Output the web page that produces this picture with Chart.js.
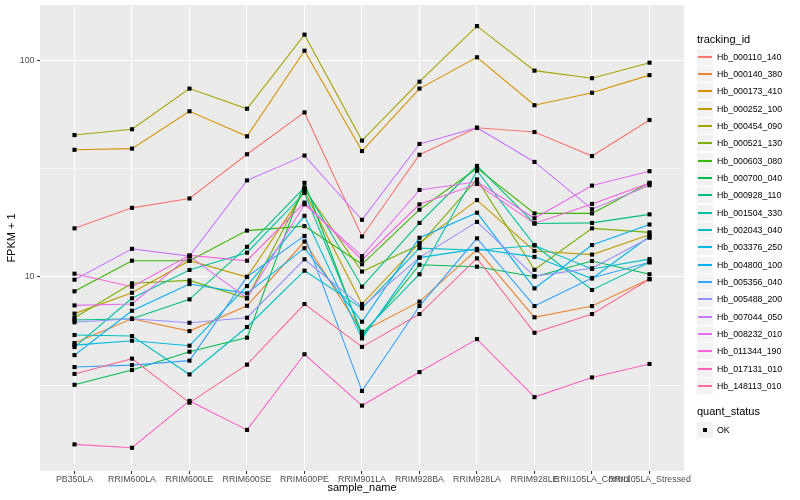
<!DOCTYPE html>
<html><head><meta charset="utf-8">
<script src="https://cdn.jsdelivr.net/npm/chart.js@4"></script>
<style>
body{margin:0;background:#fff;}
#wrap{position:relative;width:800px;height:500px;background:#fff;font-family:"Liberation Sans",Arial,Helvetica,sans-serif;overflow:hidden;}
#c{position:absolute;left:0;top:0;}
.lg-title{position:absolute;left:697px;font-size:11px;color:#000;line-height:13px;white-space:nowrap;}
.lg-key{position:absolute;left:697px;width:16px;height:16px;background:#F2F2F2;}
.lg-line{position:absolute;left:1px;width:14px;top:7px;height:2px;}
.lg-pt{position:absolute;left:6px;top:6px;width:4px;height:4px;background:#000;}
.lg-text{position:absolute;left:717px;font-size:8.8px;line-height:17px;height:17px;color:#000;white-space:nowrap;}
</style></head>
<body><div id="wrap"><canvas id="c" width="800" height="500"></canvas></div>
<script>
const categories = ['PB350LA','RRIM600LA','RRIM600LE','RRIM600SE','RRIM600PE','RRIM901LA','RRIM928BA','RRIM928LA','RRIM928LE','RRII105LA_Control','RRII105LA_Stressed'];
const seriesNames = ['Hb_000110_140','Hb_000140_380','Hb_000173_410','Hb_000252_100','Hb_000454_090','Hb_000521_130','Hb_000603_080','Hb_000700_040','Hb_000928_110','Hb_001504_330','Hb_002043_040','Hb_003376_250','Hb_004800_100','Hb_005356_040','Hb_005488_200','Hb_007044_050','Hb_008232_010','Hb_011344_190','Hb_017131_010','Hb_148113_010'];
const palette = ['#F8766D','#EA8331','#D89000','#C09B00','#A3A500','#7CAE00','#39B600','#00BB4E','#00BF7D','#00C1A3','#00BFC4','#00BAE0','#00B0F6','#35A2FF','#9590FF','#C77CFF','#E76BF3','#FA62DB','#FF62BC','#FF6C91'];

// FPKM + 1 values, one array per tracking_id, in category order
const hb_000110_140 = [16.8, 20.9, 23.1, 37.0, 57.8, 15.4, 36.8, 49.1, 46.9, 36.3, 53.3];
const hb_000140_380 = [4.95, 6.41, 5.62, 7.36, 14.6, 5.58, 7.69, 13.4, 6.51, 7.34, 9.79];
const hb_000173_410 = [38.8, 39.3, 58.5, 44.8, 111.6, 38.3, 74.5, 104, 62.4, 71.3, 86.0];
const hb_000252_100 = [6.77, 8.46, 11.9, 10.0, 24.9, 7.5, 14.4, 22.7, 13.2, 12.7, 15.7];
const hb_000454_090 = [45.4, 48.3, 74.5, 60.1, 132.4, 42.8, 80.2, 145, 90.2, 83.2, 98.2];
const hb_000521_130 = [6.48, 9.35, 9.65, 7.97, 25.5, 10.6, 14.1, 28.3, 10.8, 16.8, 16.1];
const hb_000603_080 = [8.59, 11.9, 11.9, 16.4, 17.2, 11.45, 20.5, 31.9, 19.7, 19.7, 27.3];
const hb_000700_040 = [3.17, 3.71, 4.51, 5.24, 27.3, 5.33, 11.4, 11.16, 10.03, 11.86, 10.3];
const hb_000928_110 = [6.32, 6.41, 7.88, 13.8, 26.0, 9.02, 17.8, 32.7, 17.7, 17.8, 19.5];
const hb_001504_330 = [4.74, 7.97, 10.78, 12.96, 24.5, 5.49, 10.3, 31.05, 14.06, 8.71, 11.7];
const hb_002043_040 = [5.39, 5.33, 3.54, 5.87, 10.7, 7.16, 13.6, 13.3, 14.0, 10.9, 12.1];
const hb_003376_250 = [4.84, 5.07, 4.81, 9.08, 19.2, 5.2, 12.3, 13.5, 12.4, 9.84, 15.4];
const hb_004800_100 = [4.35, 6.98, 9.28, 8.4, 13.6, 6.21, 15.2, 19.85, 8.86, 14.06, 17.5];
const hb_005356_040 = [3.83, 3.91, 4.1, 10.03, 15.5, 2.97, 7.34, 15.1, 7.34, 9.9, 11.7];
const hb_005488_200 = [6.17, 6.41, 6.14, 6.48, 12.08, 7.28, 12.3, 18.0, 10.1, 10.97, 15.2];
const hb_007044_050 = [9.72, 13.5, 12.5, 28.0, 36.5, 18.4, 41.3, 49.1, 34.1, 20.6, 26.6];
const hb_008232_010 = [7.39, 7.5, 12.5, 7.97, 21.7, 12.5, 25.3, 27.6, 18.7, 26.5, 30.9];
const hb_011344_190 = [10.36, 9.02, 12.6, 11.9, 22.1, 12.0, 21.7, 26.95, 17.7, 21.8, 27.2];
const hb_017131_010 = [1.68, 1.62, 2.67, 1.96, 4.39, 2.54, 3.63, 5.16, 2.78, 3.43, 3.96];
const hb_148113_010 = [3.56, 4.19, 2.62, 3.93, 7.5, 4.75, 6.74, 12.2, 5.52, 6.74, 9.76];

const seriesValues = [hb_000110_140, hb_000140_380, hb_000173_410, hb_000252_100, hb_000454_090, hb_000521_130, hb_000603_080, hb_000700_040, hb_000928_110, hb_001504_330, hb_002043_040, hb_003376_250, hb_004800_100, hb_005356_040, hb_005488_200, hb_007044_050, hb_008232_010, hb_011344_190, hb_017131_010, hb_148113_010];

const yMajorTicks = [10, 100];
const yMinorTicks = [3.1623, 31.623];
const quantStatus = ['OK'];

const FONT = '"Liberation Sans", Arial, Helvetica, sans-serif';

const datasets = seriesValues.map((vals, k) => ({
  type: 'line',
  label: seriesNames[k],
  data: vals.map((v, i) => ({x: i, y: v})),
  borderColor: palette[k],
  backgroundColor: palette[k],
  borderWidth: 1.1,
  pointRadius: 0,
  tension: 0,
  fill: false,
  order: seriesNames.length - k
}));
datasets.push({
  type: 'scatter',
  label: 'quant_status',
  data: seriesValues.flatMap(vals => vals.map((v, i) => ({x: i, y: v}))),
  backgroundColor: '#000',
  borderWidth: 0,
  pointStyle: 'rect',
  pointRadius: 2.9,
  order: 0
});

const panelBg = {
  id: 'panelBg',
  beforeDraw(chart) {
    const {ctx, chartArea: a} = chart;
    ctx.save();
    ctx.fillStyle = '#EBEBEB';
    ctx.fillRect(a.left, a.top, a.right - a.left, a.bottom - a.top);
    ctx.restore();
  }
};

const isMajor = v => yMajorTicks.some(m => Math.abs(m - v) < 1e-6);

new Chart(document.getElementById('c'), {
  data: {datasets},
  plugins: [panelBg],
  options: {
    responsive: false,
    animation: false,
    layout: {padding: {left: 0, right: 116, top: 5, bottom: 0}},
    plugins: {legend: {display: false}, tooltip: {enabled: false}},
    scales: {
      x: {
        type: 'linear', min: -0.6, max: 10.6,
        afterBuildTicks: s => { s.ticks = categories.map((c, i) => ({value: i})); },
        afterFit: s => { s.height = 29; s.paddingLeft = 0; s.paddingRight = 0; },
        border: {display: false},
        grid: {color: '#FFFFFF', lineWidth: 1.07, drawTicks: true, tickLength: 3, tickColor: '#333333', tickWidth: 1.07},
        ticks: {autoSkip: false, maxRotation: 0, minRotation: 0, padding: 0, color: '#4D4D4D',
                font: {size: 8.8, family: FONT}, callback: v => categories[v]},
        title: {display: true, text: 'sample_name', color: '#000', font: {size: 11, family: FONT}, padding: {top: 0, bottom: 5.6}}
      },
      y: {
        type: 'logarithmic', min: 1.265, max: 181.6,
        afterBuildTicks: s => { s.ticks = yMinorTicks.concat(yMajorTicks).sort((a, b) => a - b).map(v => ({value: v})); },
        afterFit: s => { s.width = 40; s.paddingTop = 0; s.paddingBottom = 0; },
        border: {display: false},
        grid: {
          color: '#FFFFFF',
          lineWidth: c => isMajor(c.tick.value) ? 1.07 : 0.53,
          drawTicks: true, tickLength: 3,
          tickColor: c => isMajor(c.tick.value) ? '#333333' : 'rgba(0,0,0,0)',
          tickWidth: 1.07
        },
        ticks: {autoSkip: false, padding: 2.5, color: '#4D4D4D', font: {size: 8.8, family: FONT},
                callback: v => isMajor(v) ? String(v) : ''},
        title: {display: true, text: 'FPKM + 1', color: '#000', font: {size: 11, family: FONT}, padding: {top: 5.4, bottom: 0}}
      }
    }
  }
});

// ggplot-style legend as real text
const wrap = document.getElementById('wrap');
function add(cls, css, text) {
  const d = document.createElement('div');
  d.className = cls;
  Object.assign(d.style, css);
  if (text !== undefined) d.textContent = text;
  wrap.appendChild(d);
  return d;
}
add('lg-title', {top: '33px'}, 'tracking_id');
seriesNames.forEach((n, k) => {
  const top = Math.round(48.5 + k * 17.35);
  const key = add('lg-key', {top: top + 'px'});
  const ln = document.createElement('div');
  ln.className = 'lg-line';
  ln.style.backgroundColor = palette[k];
  key.appendChild(ln);
  add('lg-text', {top: top + 'px'}, n);
});
add('lg-title', {top: '405px'}, 'quant_status');
quantStatus.forEach((q, k) => {
  const top = Math.round(422 + k * 17.35);
  const key = add('lg-key', {top: top + 'px'});
  const p = document.createElement('div');
  p.className = 'lg-pt';
  key.appendChild(p);
  add('lg-text', {top: top + 'px'}, q);
});
</script></body></html>
